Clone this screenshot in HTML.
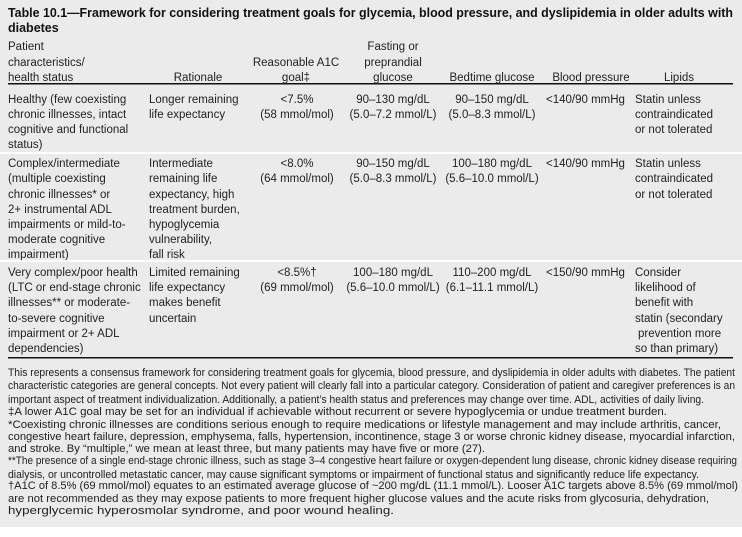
<!DOCTYPE html>
<html><head><meta charset="utf-8"><style>
html,body{margin:0;padding:0;background:#fff;}
svg{display:block;}
text{font-family:"Liberation Sans",sans-serif;fill:#222;}
.c{font-size:11.5px;}
.m{text-anchor:middle;}
.f{font-size:10.6px;}
.t{font-size:12.5px;font-weight:bold;fill:#111;}
</style></head><body>
<svg width="742" height="537" viewBox="0 0 742 537" xmlns="http://www.w3.org/2000/svg">
<rect x="0" y="0" width="742" height="527" fill="#ebebeb"/>
<text class="t" x="8" y="17" textLength="725" lengthAdjust="spacingAndGlyphs">Table 10.1—Framework for considering treatment goals for glycemia, blood pressure, and dyslipidemia in older adults with</text>
<text class="t" x="8" y="32">diabetes</text>

<g class="c">
<text x="8" y="50">Patient</text>
<text x="8" y="66">characteristics/</text>
<text x="8" y="81">health status</text>
<text class="m" x="198" y="81">Rationale</text>
<text class="m" x="296" y="66">Reasonable A1C</text>
<text class="m" x="296" y="81">goal‡</text>
<text class="m" x="393" y="50">Fasting or</text>
<text class="m" x="393" y="66">preprandial</text>
<text class="m" x="393" y="81">glucose</text>
<text class="m" x="492" y="81">Bedtime glucose</text>
<text class="m" x="591" y="81">Blood pressure</text>
<text class="m" x="679" y="81">Lipids</text>
</g>
<rect x="8" y="83" width="725" height="1.5" fill="#111"/>

<g class="c">
<text x="8" y="103">Healthy (few coexisting</text>
<text x="8" y="118">chronic illnesses, intact</text>
<text x="8" y="133">cognitive and functional</text>
<text x="8" y="148">status)</text>
<text x="149" y="103">Longer remaining</text>
<text x="149" y="118">life expectancy</text>
<text class="m" x="297" y="103">&lt;7.5%</text>
<text class="m" x="297" y="118">(58 mmol/mol)</text>
<text class="m" x="393" y="103">90–130 mg/dL</text>
<text class="m" x="393" y="118">(5.0–7.2 mmol/L)</text>
<text class="m" x="492" y="103">90–150 mg/dL</text>
<text class="m" x="492" y="118">(5.0–8.3 mmol/L)</text>
<text x="546" y="103">&lt;140/90 mmHg</text>
<text x="635" y="103">Statin unless</text>
<text x="635" y="118">contraindicated</text>
<text x="635" y="133">or not tolerated</text>
</g>
<rect x="0" y="152" width="742" height="2" fill="#fff"/>

<g class="c">
<text x="8" y="167">Complex/intermediate</text>
<text x="8" y="182">(multiple coexisting</text>
<text x="8" y="198">chronic illnesses* or</text>
<text x="8" y="213">2+ instrumental ADL</text>
<text x="8" y="228">impairments or mild-to-</text>
<text x="8" y="243">moderate cognitive</text>
<text x="8" y="258">impairment)</text>
<text x="149" y="167">Intermediate</text>
<text x="149" y="182">remaining life</text>
<text x="149" y="198">expectancy, high</text>
<text x="149" y="213">treatment burden,</text>
<text x="149" y="228">hypoglycemia</text>
<text x="149" y="243">vulnerability,</text>
<text x="149" y="258">fall risk</text>
<text class="m" x="297" y="167">&lt;8.0%</text>
<text class="m" x="297" y="182">(64 mmol/mol)</text>
<text class="m" x="393" y="167">90–150 mg/dL</text>
<text class="m" x="393" y="182">(5.0–8.3 mmol/L)</text>
<text class="m" x="492" y="167">100–180 mg/dL</text>
<text class="m" x="492" y="182">(5.6–10.0 mmol/L)</text>
<text x="546" y="167">&lt;140/90 mmHg</text>
<text x="635" y="167">Statin unless</text>
<text x="635" y="182">contraindicated</text>
<text x="635" y="198">or not tolerated</text>
</g>
<rect x="0" y="260" width="742" height="2" fill="#fff"/>

<g class="c">
<text x="8" y="276">Very complex/poor health</text>
<text x="8" y="291">(LTC or end-stage chronic</text>
<text x="8" y="306">illnesses** or moderate-</text>
<text x="8" y="322">to-severe cognitive</text>
<text x="8" y="337">impairment or 2+ ADL</text>
<text x="8" y="352">dependencies)</text>
<text x="149" y="276">Limited remaining</text>
<text x="149" y="291">life expectancy</text>
<text x="149" y="306">makes benefit</text>
<text x="149" y="322">uncertain</text>
<text class="m" x="297" y="276">&lt;8.5%†</text>
<text class="m" x="297" y="291">(69 mmol/mol)</text>
<text class="m" x="393" y="276">100–180 mg/dL</text>
<text class="m" x="393" y="291">(5.6–10.0 mmol/L)</text>
<text class="m" x="492" y="276">110–200 mg/dL</text>
<text class="m" x="492" y="291">(6.1–11.1 mmol/L)</text>
<text x="546" y="276">&lt;150/90 mmHg</text>
<text x="635" y="276">Consider</text>
<text x="635" y="291">likelihood of</text>
<text x="635" y="306">benefit with</text>
<text x="635" y="322">statin (secondary</text>
<text x="638" y="337">prevention more</text>
<text x="635" y="352">so than primary)</text>
</g>
<rect x="8" y="357" width="725" height="1.5" fill="#111"/>

<g class="f">
<text x="8" y="376" textLength="727" lengthAdjust="spacingAndGlyphs">This represents a consensus framework for considering treatment goals for glycemia, blood pressure, and dyslipidemia in older adults with diabetes. The patient</text>
<text x="8" y="389" textLength="727" lengthAdjust="spacingAndGlyphs">characteristic categories are general concepts. Not every patient will clearly fall into a particular category. Consideration of patient and caregiver preferences is an</text>
<text x="8" y="403" textLength="696" lengthAdjust="spacingAndGlyphs">important aspect of treatment individualization. Additionally, a patient’s health status and preferences may change over time. ADL, activities of daily living.</text>
<text x="8" y="415" textLength="659" lengthAdjust="spacingAndGlyphs">‡A lower A1C goal may be set for an individual if achievable without recurrent or severe hypoglycemia or undue treatment burden.</text>
<text x="8" y="428" textLength="713" lengthAdjust="spacingAndGlyphs">*Coexisting chronic illnesses are conditions serious enough to require medications or lifestyle management and may include arthritis, cancer,</text>
<text x="8" y="440" textLength="727" lengthAdjust="spacingAndGlyphs">congestive heart failure, depression, emphysema, falls, hypertension, incontinence, stage 3 or worse chronic kidney disease, myocardial infarction,</text>
<text x="8" y="452" textLength="477" lengthAdjust="spacingAndGlyphs">and stroke. By “multiple,” we mean at least three, but many patients may have five or more (27).</text>
<text x="8" y="464" textLength="729" lengthAdjust="spacingAndGlyphs">**The presence of a single end-stage chronic illness, such as stage 3–4 congestive heart failure or oxygen-dependent lung disease, chronic kidney disease requiring</text>
<text x="8" y="478" textLength="691" lengthAdjust="spacingAndGlyphs">dialysis, or uncontrolled metastatic cancer, may cause significant symptoms or impairment of functional status and significantly reduce life expectancy.</text>
<text x="8" y="489" textLength="730" lengthAdjust="spacingAndGlyphs">†A1C of 8.5% (69 mmol/mol) equates to an estimated average glucose of ~200 mg/dL (11.1 mmol/L). Looser A1C targets above 8.5% (69 mmol/mol)</text>
<text x="8" y="502" textLength="701" lengthAdjust="spacingAndGlyphs">are not recommended as they may expose patients to more frequent higher glucose values and the acute risks from glycosuria, dehydration,</text>
<text x="8" y="514" textLength="386" lengthAdjust="spacingAndGlyphs">hyperglycemic hyperosmolar syndrome, and poor wound healing.</text>
</g>
</svg>
</body></html>
